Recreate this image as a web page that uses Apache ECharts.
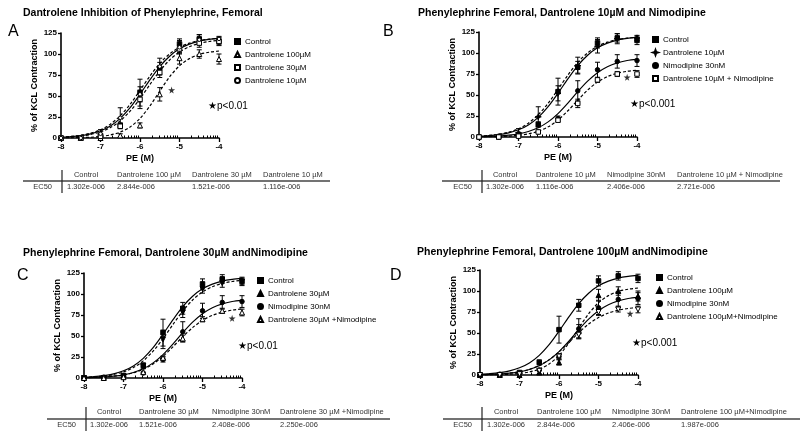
<!DOCTYPE html>
<html>
<head>
<meta charset="utf-8">
<title>Dantrolene / Nimodipine, phenylephrine femoral</title>
<script src="https://cdn.jsdelivr.net/npm/echarts@6/dist/echarts.min.js"></script>
<style>
  html, body { margin: 0; padding: 0; background: #fff; }
  #chart { width: 800px; height: 437px; }
</style>
</head>
<body>
<div id="chart"></div>
<script>
// log [PE] (M) of the tested doses
const logPE = [-8, -7.5, -7, -6.5, -6, -5.5, -5, -4.5, -4];
const fitPE = [-8, -7.75, -7.5, -7.25, -7, -6.75, -6.5, -6.25, -6, -5.75, -5.5, -5.25, -5, -4.75, -4.5, -4.25, -4];
// minor ticks of the PE axis (log spaced, only -7 .. -4)
const minorTicks = [
  -6.699, -6.523, -6.398, -6.301, -6.222, -6.155, -6.097, -6.046,
  -5.699, -5.523, -5.398, -5.301, -5.222, -5.155, -5.097, -5.046,
  -4.699, -4.523, -4.398, -4.301, -4.222, -4.155, -4.097, -4.046
];

// % of KCL contraction: mean and SEM at logPE, fitted curve at fitPE
const controlMean = [0, 0, 3, 15, 54, 83, 112, 118, 115];
const controlSem  = [0, 0, 1, 3, 16, 7, 6, 5, 5];
const controlFit  = [0.9, 1.6, 2.8, 5.0, 8.6, 14.4, 23.4, 36.1, 52.1, 69.2, 85.0, 97.4, 106.2, 111.8, 115.3, 117.3, 118.5];

const dan100Mean = [0, 0, 0, 3, 15, 52, 95, 100, 94];
const dan100Sem  = [0, 0, 0, 2, 3, 8, 7, 5, 6];
const dan100Fit  = [0.1, 0.2, 0.5, 0.9, 1.9, 3.6, 7.0, 13.1, 23.3, 38.1, 55.8, 72.8, 86.0, 94.5, 99.5, 102.1, 103.6];

const dan30Mean = [0, 0, 2, 14, 46, 78, 106, 113, 115];
const dan30Sem  = [0, 0, 1, 3, 11, 6, 5, 5, 4];
const dan30Fit  = [0.8, 1.4, 2.4, 4.2, 7.3, 12.4, 20.4, 31.9, 46.8, 63.6, 79.7, 92.9, 102.4, 108.7, 112.6, 114.9, 116.2];

const dan10Mean = [0, 0, 5, 24, 52, 85, 108, 117, 118];
const dan10Sem  = [0, 0, 5, 12, 9, 10, 8, 6, 3];
const dan10Fit  = [1.1, 1.9, 3.3, 5.7, 9.8, 16.5, 26.5, 40.1, 56.7, 73.7, 88.7, 100.1, 107.9, 112.9, 115.9, 117.7, 118.7];

const nimMean = [0, 1, 2, 6, 22, 55, 80, 90, 91];
const nimSem  = [0, 0, 1, 1, 3, 12, 9, 8, 7];
const nimFit  = [0.4, 0.7, 1.2, 2.2, 3.8, 6.6, 11.0, 18.0, 27.9, 40.4, 54.0, 66.5, 76.6, 83.7, 88.3, 91.1, 92.8];

const dan10NimMean = [0, 0, 1, 6, 20, 40, 68, 75, 75];
const dan10NimSem  = [0, 0, 1, 1, 2, 5, 3, 3, 4];
const dan10NimFit  = [0.2, 0.3, 0.6, 1.1, 2.1, 3.8, 6.9, 12.1, 20.2, 31.2, 43.8, 55.9, 65.4, 71.9, 75.9, 78.2, 79.5];

const dan30NimMean = [0, 0, 1, 7, 24, 47, 70, 80, 78];
const dan30NimSem  = [0, 0, 1, 1, 2, 4, 3, 3, 4];
const dan30NimFit  = [0.4, 0.7, 1.2, 2.1, 3.6, 6.2, 10.4, 16.8, 25.8, 37.1, 49.1, 60.0, 68.6, 74.6, 78.4, 80.8, 82.2];

const dan100NimMean = [0, 0, 1, 5, 22, 48, 75, 78, 78];
const dan100NimSem  = [0, 0, 1, 1, 3, 4, 3, 3, 4];
const dan100NimFit  = [0.4, 0.7, 1.3, 2.3, 3.9, 6.7, 11.3, 18.1, 27.4, 38.7, 50.4, 60.6, 68.4, 73.8, 77.1, 79.2, 80.4];

// EC50 tables under each graph
const headA = ['Control', 'Dantrolene 100 µM', 'Dantrolene 30 µM', 'Dantrolene 10 µM'];
const ec50A = ['1.302e-006', '2.844e-006', '1.521e-006', '1.116e-006'];
const headB = ['Control', 'Dantrolene 10 µM', 'Nimodipine 30nM', 'Dantrolene 10 µM + Nimodipine'];
const ec50B = ['1.302e-006', '1.116e-006', '2.406e-006', '2.721e-006'];
const headC = ['Control', 'Dantrolene 30 µM', 'Nimodipine 30nM', 'Dantrolene 30 µM +Nimodipine'];
const ec50C = ['1.302e-006', '1.521e-006', '2.408e-006', '2.250e-006'];
const headD = ['Control', 'Dantrolene 100 µM', 'Nimodipine 30nM', 'Dantrolene 100 µM+Nimodipine'];
const ec50D = ['1.302e-006', '2.844e-006', '2.406e-006', '1.987e-006'];

const FONT = '"Liberation Sans", Arial, Helvetica, sans-serif';
const STAR = 'path://M50,0 L61,35 L98,35 L68,57 L79,91 L50,70 L21,91 L32,57 L2,35 L39,35 Z';
const STAR4 = 'path://M5,0 L6.3,3.7 L10,5 L6.3,6.3 L5,10 L3.7,6.3 L0,5 L3.7,3.7 Z';

// marker styles
const sym = {
  fsq:  { symbol: 'rect', size: 4.5, fill: '#000' },
  osq:  { symbol: 'rect', size: 4.5, fill: '#fff' },
  otri: { symbol: 'triangle', size: 5, fill: '#fff' },
  ftri: { symbol: 'triangle', size: 5, fill: '#000' },
  odown:{ symbol: 'triangle', size: 5, fill: '#fff', rotate: 180 },
  fdown:{ symbol: 'triangle', size: 5, fill: '#000', rotate: 180 },
  ocir: { symbol: 'circle', size: 3.5, fill: '#fff' },
  fcir: { symbol: 'circle', size: 4.5, fill: '#000' },
  star: { symbol: STAR4, size: 6, fill: '#000' }
};

const panels = [
  {
    key: 'A', letter: [8, 33], title: 'Dantrolene Inhibition of Phenylephrine, Femoral', titleXY: [23, 15],
    grid: [61, 33], legend: [234, 37], p: '★p<0.01', pXY: [208, 107], star: [-5.2, 57],
    groups: [
      { label: 'Control', mean: controlMean, sem: controlSem, fit: controlFit, dash: false, s: 'fsq' },
      { label: 'Dantrolene 100µM', mean: dan100Mean, sem: dan100Sem, fit: dan100Fit, dash: true, s: 'otri' },
      { label: 'Dantrolene 30µM', mean: dan30Mean, sem: dan30Sem, fit: dan30Fit, dash: true, s: 'osq' },
      { label: 'Dantrolene 10µM', mean: dan10Mean, sem: dan10Sem, fit: dan10Fit, dash: true, s: 'ocir' }
    ],
    table: { head: headA, ec50: ec50A, x0: 23, x1: 330, lineY: 181, headY: 175, rowY: 187, vx: 62, vy: [170, 193], cx0: 86, cols: [117, 192, 263] }
  },
  {
    key: 'B', letter: [383, 33], title: 'Phenylephrine Femoral, Dantrolene 10µM and Nimodipine', titleXY: [418, 15],
    grid: [479, 32], legend: [652, 35], p: '★p<0.001', pXY: [630, 105], star: [-4.25, 71],
    groups: [
      { label: 'Control', mean: controlMean, sem: controlSem, fit: controlFit, dash: false, s: 'fsq' },
      { label: 'Dantrolene 10µM', mean: dan10Mean, sem: dan10Sem, fit: dan10Fit, dash: true, s: 'star' },
      { label: 'Nimodipine 30nM', mean: nimMean, sem: nimSem, fit: nimFit, dash: false, s: 'fcir' },
      { label: 'Dantrolene 10µM + Nimodipine', mean: dan10NimMean, sem: dan10NimSem, fit: dan10NimFit, dash: true, s: 'osq' }
    ],
    table: { head: headB, ec50: ec50B, x0: 442, x1: 780, lineY: 181, headY: 175, rowY: 187, vx: 482, vy: [170, 193], cx0: 505, cols: [536, 607, 677] }
  },
  {
    key: 'C', letter: [17, 277], title: 'Phenylephrine Femoral, Dantrolene 30µM andNimodipine', titleXY: [23, 255],
    grid: [84, 273], legend: [257, 276], p: '★p<0.01', pXY: [238, 347], star: [-4.25, 71],
    groups: [
      { label: 'Control', mean: controlMean, sem: controlSem, fit: controlFit, dash: false, s: 'fsq' },
      { label: 'Dantrolene 30µM', mean: dan30Mean, sem: dan30Sem, fit: dan30Fit, dash: true, s: 'fdown' },
      { label: 'Nimodipine 30nM', mean: nimMean, sem: nimSem, fit: nimFit, dash: false, s: 'fcir' },
      { label: 'Dantrolene 30µM +Nimodipine', mean: dan30NimMean, sem: dan30NimSem, fit: dan30NimFit, dash: true, s: 'otri' }
    ],
    table: { head: headC, ec50: ec50C, x0: 47, x1: 390, lineY: 419, headY: 412, rowY: 425, vx: 86, vy: [407, 431], cx0: 109, cols: [139, 212, 280] }
  },
  {
    key: 'D', letter: [390, 277], title: 'Phenylephrine Femoral, Dantrolene 100µM andNimodipine', titleXY: [417, 254],
    grid: [480, 270], legend: [656, 273], p: '★p<0.001', pXY: [632, 344], star: [-4.2, 73],
    groups: [
      { label: 'Control', mean: controlMean, sem: controlSem, fit: controlFit, dash: false, s: 'fsq' },
      { label: 'Dantrolene 100µM', mean: dan100Mean, sem: dan100Sem, fit: dan100Fit, dash: true, s: 'ftri' },
      { label: 'Nimodipine 30nM', mean: nimMean, sem: nimSem, fit: nimFit, dash: false, s: 'fcir' },
      { label: 'Dantrolene 100µM+Nimodipine', mean: dan100NimMean, sem: dan100NimSem, fit: dan100NimFit, dash: true, s: 'odown' }
    ],
    table: { head: headD, ec50: ec50D, x0: 443, x1: 800, lineY: 419, headY: 412, rowY: 425, vx: 482, vy: [407, 431], cx0: 506, cols: [537, 612, 681] }
  }
];

function errorBars(params, api) {
  const x = api.value(0);
  const lo = api.coord([x, api.value(1)]);
  const hi = api.coord([x, api.value(2)]);
  const w = 2.5;
  const st = { stroke: '#000', lineWidth: 1 };
  return {
    type: 'group',
    children: [
      { type: 'line', shape: { x1: lo[0], y1: lo[1], x2: hi[0], y2: hi[1] }, style: st },
      { type: 'line', shape: { x1: hi[0] - w, y1: hi[1], x2: hi[0] + w, y2: hi[1] }, style: st },
      { type: 'line', shape: { x1: lo[0] - w, y1: lo[1], x2: lo[0] + w, y2: lo[1] }, style: st }
    ]
  };
}

const option = {
  animation: false,
  backgroundColor: '#fff',
  title: [], grid: [], xAxis: [], yAxis: [], legend: [], series: [], graphic: []
};

panels.forEach((p, i) => {
  option.title.push(
    { text: p.title, left: p.titleXY[0], top: p.titleXY[1] - 7, padding: 0,
      textStyle: { fontFamily: FONT, fontSize: 10.5, fontWeight: 'bold', color: '#000' } },
    { text: p.key, left: p.letter[0], top: p.letter[1] - 9, padding: 0,
      textStyle: { fontFamily: FONT, fontSize: 16, fontWeight: 'normal', color: '#000' } },
    { text: p.p, left: p.pXY[0], top: p.pXY[1] - 6, padding: 0,
      textStyle: { fontFamily: FONT, fontSize: 10, fontWeight: 'normal', color: '#000' } }
  );

  option.grid.push({ left: p.grid[0], top: p.grid[1], width: 158, height: 105 });

  option.xAxis.push({
    gridIndex: i, type: 'value', min: -8, max: -4, interval: 1,
    name: 'PE (M)', nameLocation: 'middle', nameGap: 16,
    nameTextStyle: { fontFamily: FONT, fontSize: 9, fontWeight: 'bold', color: '#000' },
    axisLine: { onZero: false, lineStyle: { color: '#000', width: 1.6 } },
    axisTick: { length: 4, lineStyle: { color: '#000', width: 1.3 } },
    axisLabel: { margin: 5, fontFamily: FONT, fontSize: 8, fontWeight: 'bold', color: '#000' },
    splitLine: { show: false }
  }, {
    gridIndex: i, type: 'value', min: -8, max: -4,
    axisLine: { show: false },
    axisLabel: { show: false },
    axisTick: { show: true, customValues: minorTicks, length: 2.5, lineStyle: { color: '#000', width: 1 } },
    splitLine: { show: false }
  });

  option.yAxis.push({
    gridIndex: i, type: 'value', min: 0, max: 125, interval: 25,
    name: '% of KCL Contraction', nameLocation: 'middle', nameGap: 22,
    nameTextStyle: { fontFamily: FONT, fontSize: 9, fontWeight: 'bold', color: '#000' },
    axisLine: { show: true, lineStyle: { color: '#000', width: 1.6 } },
    axisTick: { show: true, length: 3, lineStyle: { color: '#000', width: 1.3 } },
    axisLabel: { margin: 4, fontFamily: FONT, fontSize: 8, fontWeight: 'bold', color: '#000' },
    splitLine: { show: false }
  });

  option.legend.push({
    left: p.legend[0], top: p.legend[1], orient: 'vertical',
    itemWidth: 5, itemHeight: 5, itemGap: 4, padding: 0,
    selectedMode: false,
    data: p.groups.map(g => p.key + '|' + g.label),
    formatter: name => name.split('|')[1],
    textStyle: { fontFamily: FONT, fontSize: 8, color: '#000', lineHeight: 9 }
  });

  const xi = i * 2;
  p.groups.forEach(g => {
    const s = sym[g.s];
    option.series.push({
      name: p.key + '|' + g.label + '|fit', type: 'line', xAxisIndex: xi, yAxisIndex: i,
      data: fitPE.map((x, k) => [x, g.fit[k]]),
      showSymbol: false, smooth: 0.3, z: 2,
      lineStyle: { color: '#000', width: 1.2, type: g.dash ? [3, 2] : 'solid' }
    });
    option.series.push({
      name: p.key + '|' + g.label + '|sem', type: 'custom', xAxisIndex: xi, yAxisIndex: i,
      renderItem: errorBars, z: 3,
      data: logPE.map((x, k) => [x, g.mean[k] - g.sem[k], g.mean[k] + g.sem[k]]).filter((d, k) => g.sem[k] > 1)
    });
    option.series.push({
      name: p.key + '|' + g.label, type: 'scatter', xAxisIndex: xi, yAxisIndex: i,
      data: logPE.map((x, k) => [x, g.mean[k]]),
      symbol: s.symbol, symbolSize: s.size, symbolRotate: s.rotate || 0, z: 4,
      itemStyle: { color: s.fill, borderColor: '#000', borderWidth: 1, opacity: 1 }
    });
  });
  // significance star next to the curves
  option.series.push({
    name: p.key + '|star', type: 'scatter', xAxisIndex: xi, yAxisIndex: i,
    data: [p.star], symbol: STAR, symbolSize: 7, z: 4,
    itemStyle: { color: '#000' }
  });

  const t = p.table;
  option.graphic.push(
    { type: 'line', shape: { x1: t.x0, y1: t.lineY, x2: t.x1, y2: t.lineY }, style: { stroke: '#444', lineWidth: 1.5 } },
    { type: 'line', shape: { x1: t.vx, y1: t.vy[0], x2: t.vx, y2: t.vy[1] }, style: { stroke: '#222', lineWidth: 1.2 } },
    { type: 'text', x: t.vx - 10, y: t.rowY, style: { text: 'EC50', fontFamily: FONT, fontSize: 7.5, fill: '#333', align: 'right', verticalAlign: 'middle' } }
  );
  t.head.forEach((h, k) => {
    const x = k === 0 ? t.cx0 : t.cols[k - 1];
    const align = k === 0 ? 'center' : 'left';
    option.graphic.push(
      { type: 'text', x: x, y: t.headY, style: { text: h, fontFamily: FONT, fontSize: 7.5, fill: '#333', align: align, verticalAlign: 'middle' } },
      { type: 'text', x: x, y: t.rowY, style: { text: t.ec50[k], fontFamily: FONT, fontSize: 7.5, fill: '#333', align: align, verticalAlign: 'middle' } }
    );
  });
});

const chart = echarts.init(document.getElementById('chart'));
chart.setOption(option);
</script>
</body>
</html>
